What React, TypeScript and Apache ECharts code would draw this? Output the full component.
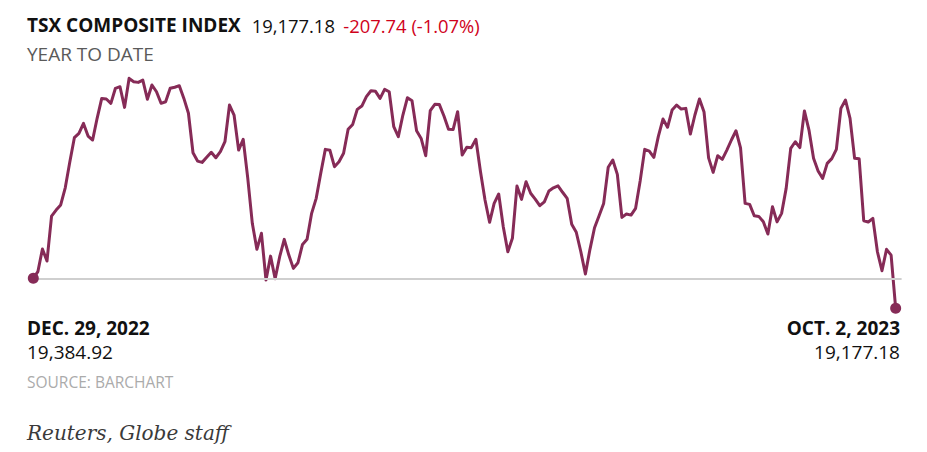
import React, { useEffect, useRef } from "react";
import * as echarts from "echarts";

// TSX Composite closes, one per trading session from Dec. 29, 2022 (index 0) to Oct. 2, 2023 (index 189)
const closes: number[] = [
  19384.92, 19431, 19588, 19505, 19816, 19858, 19893, 20012, 20190, 20359,
  20389, 20458, 20370, 20343, 20495, 20631, 20627, 20597, 20701, 20712,
  20569, 20770, 20746, 20742, 20758, 20625, 20724, 20677, 20597, 20608,
  20701, 20708, 20719, 20631, 20528, 20255, 20197, 20188, 20223, 20258,
  20220, 20262, 20331, 20585, 20516, 20273, 20348, 20079, 19766, 19586,
  19697, 19373, 19539, 19382, 19535, 19655, 19546, 19454, 19493, 19620,
  19655, 19835, 19939, 20112, 20278, 20272, 20158, 20192, 20251, 20417,
  20451, 20555, 20578, 20643, 20684, 20680, 20631, 20694, 20677, 20435,
  20366, 20516, 20636, 20615, 20407, 20354, 20234, 20546, 20590, 20588,
  20509, 20417, 20415, 20539, 20239, 20292, 20290, 20348, 20125, 19927,
  19773, 19904, 19969, 19742, 19569, 19662, 20024, 19932, 20054, 19974,
  19934, 19888, 19915, 19990, 20012, 20026, 19981, 19939, 19759, 19704,
  19569, 19415, 19586, 19735, 19818, 19904, 20154, 20204, 20105, 19807,
  19830, 19823, 19870, 20059, 20278, 20266, 20223, 20370, 20488, 20431,
  20550, 20585, 20557, 20562, 20384, 20516, 20627, 20537, 20219, 20119,
  20234, 20209, 20273, 20343, 20407, 20289, 19904, 19897, 19818, 19814,
  19777, 19692, 19881, 19776, 19835, 20008, 20285, 20331, 20290, 20544,
  20412, 20216, 20128, 20077, 20181, 20214, 20278, 20562, 20620, 20493,
  20216, 20213, 19784, 19775, 19800, 19569, 19438, 19586, 19546, 19177.18,
];

const sessions: number[] = closes.map((_, i) => i);

const titleText = "TSX COMPOSITE INDEX";
const lastText = "19,177.18";
const changeText = "-207.74 (-1.07%)";
const subtitleText = "YEAR TO DATE";
const startDate = "DEC. 29, 2022";
const startValue = "19,384.92";
const endDate = "OCT. 2, 2023";
const endValue = "19,177.18";
const sourceText = "SOURCE: BARCHART";
const creditText = "Reuters, Globe staff";

const LINE = "#862b57";
const SANS = "'Open Sans', sans-serif";

export default function App() {
  const ref = useRef<HTMLDivElement>(null);

  useEffect(() => {
    if (!ref.current) return;
    const chart = echarts.init(ref.current, undefined, { renderer: "svg" });
    const base = closes[0];
    const lastIdx = closes.length - 1;
    const txt = (x: number, y: number, text: string, font: string, fill: string, align = "left") => ({
      type: "text",
      x,
      y,
      style: { text, font, fill, align, verticalAlign: "middle" },
    });
    chart.setOption({
      animation: false,
      backgroundColor: "#fff",
      grid: { left: 33.3, top: 74, width: 868.3, height: 245.5 },
      xAxis: { type: "value", min: 0, max: 190.3, show: false },
      yAxis: { type: "value", min: 19100, max: 20800, show: false },
      series: [
        {
          type: "line",
          data: [],
          z: 1,
          silent: true,
          markLine: {
            silent: true,
            symbol: "none",
            label: { show: false },
            lineStyle: { color: "#cfcfcf", width: 2, type: "solid" },
            data: [{ yAxis: base }],
          },
        },
        {
          type: "line",
          data: sessions.map((s, i) => [s, closes[i]]),
          showSymbol: false,
          z: 2,
          lineStyle: { color: LINE, width: 3, join: "round", cap: "round" },
        },
        {
          type: "scatter",
          z: 5,
          data: [
            [sessions[0], closes[0]],
            [sessions[lastIdx], closes[lastIdx]],
          ],
          symbolSize: 11,
          itemStyle: { color: LINE, opacity: 1 },
        },
      ],
      graphic: [
        txt(27, 25, titleText, `bold 19px ${SANS}`, "#111"),
        txt(251.7, 25, lastText, `18.4px ${SANS}`, "#111"),
        txt(343.3, 25, changeText, `18.4px ${SANS}`, "#d0021b"),
        txt(27, 53.5, subtitleText, `19px ${SANS}`, "#5a5a5a"),
        txt(27, 328, startDate, `bold 19px ${SANS}`, "#111"),
        txt(27, 352, startValue, `19px ${SANS}`, "#111"),
        txt(900, 328, endDate, `bold 19px ${SANS}`, "#111", "right"),
        txt(900, 352, endValue, `19px ${SANS}`, "#111", "right"),
        txt(27, 381.5, sourceText, `15.5px ${SANS}`, "#ababab"),
        txt(27, 433, creditText, `italic 20px 'DejaVu Serif', serif`, "#3a3a3a"),
      ],
    });
    return () => chart.dispose();
  }, []);

  return <div ref={ref} style={{ width: 927, height: 452, position: "absolute", left: 0, top: 0 }} />;
}
